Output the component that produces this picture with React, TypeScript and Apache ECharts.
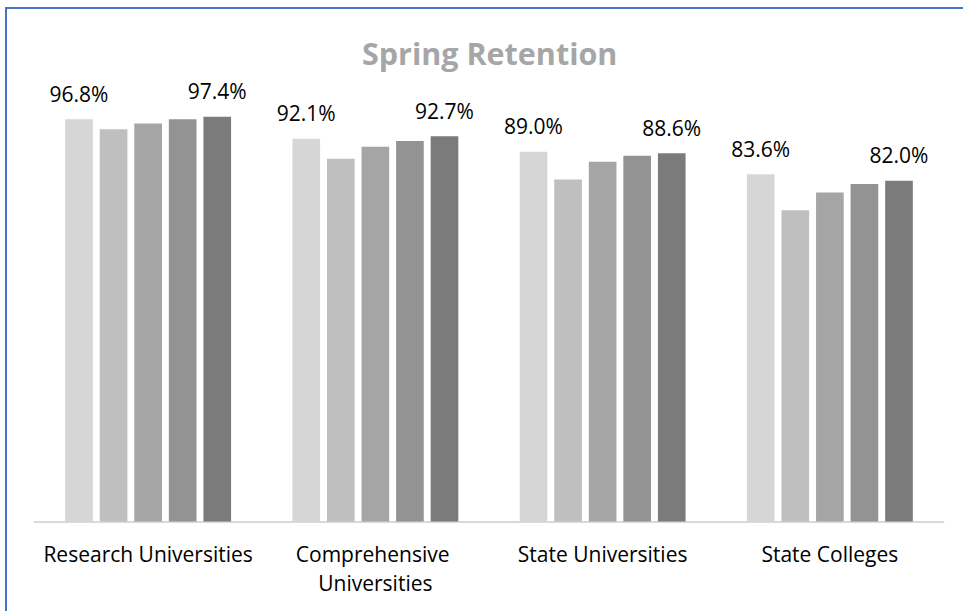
import React, { useEffect, useRef } from "react";
import * as echarts from "echarts";

const categories = [
  "Research Universities",
  "Comprehensive Universities",
  "State Universities",
  "State Colleges",
];

const seriesNames = ["Series 1", "Series 2", "Series 3", "Series 4", "Series 5"];

const series1 = [96.8, 92.1, 89.0, 83.6];
const series2 = [94.4, 87.3, 82.3, 74.9];
const series3 = [95.8, 90.2, 86.6, 79.2];
const series4 = [96.8, 91.6, 88.0, 81.2];
const series5 = [97.4, 92.7, 88.6, 82.0];

const seriesValues = [series1, series2, series3, series4, series5];
const seriesColors = ["#d6d6d6", "#bfbfbf", "#a5a5a5", "#939393", "#7b7b7b"];
const labelledSeries = [true, false, false, false, true];

const FONT = "'Open Sans', 'Noto Sans', sans-serif";

export default function App() {
  const ref = useRef<HTMLDivElement>(null);

  useEffect(() => {
    document.body.style.margin = "0";
    if (!ref.current) return;
    const chart = echarts.init(ref.current, null, { renderer: "svg" });
    chart.setOption({
      animation: false,
      backgroundColor: "#ffffff",
      title: {
        text: "Spring Retention",
        left: 357,
        top: 32,
        textStyle: {
          fontFamily: FONT,
          fontSize: 30.5,
          fontWeight: "bold",
          color: "#a6a6a6",
        },
      },
      graphic: [
        {
          type: "rect",
          shape: { x: 6, y: 8, width: 1000, height: 700 },
          style: { fill: "none", stroke: "#4472c4", lineWidth: 2 },
          silent: true,
        },
      ],
      grid: { left: 34.5, right: 19.5, top: 106, bottom: 89.5, containLabel: false },
      xAxis: {
        type: "category",
        data: categories,
        axisLine: { show: true, lineStyle: { color: "#d9d9d9", width: 2 } },
        axisTick: { show: false },
        axisLabel: {
          fontFamily: FONT,
          fontSize: 21,
          color: "#000000",
          margin: 18,
          lineHeight: 29,
          width: 220,
          overflow: "break",
          interval: 0,
        },
      },
      yAxis: {
        type: "value",
        min: 0,
        max: 100,
        show: false,
        splitLine: { show: false },
      },
      series: seriesValues.map((vals, i) => ({
        name: seriesNames[i],
        type: "bar",
        data: vals,
        barGap: "25%",
        barCategoryGap: "27%",
        itemStyle: { color: seriesColors[i] },
        label: {
          show: labelledSeries[i],
          position: "top",
          distance: 15,
          fontFamily: FONT,
          fontSize: 21,
          color: "#000000",
          formatter: (p: any) => p.value.toFixed(1) + "%",
        },
      })),
    });
    return () => chart.dispose();
  }, []);

  return <div ref={ref} style={{ width: 963, height: 611 }} />;
}
